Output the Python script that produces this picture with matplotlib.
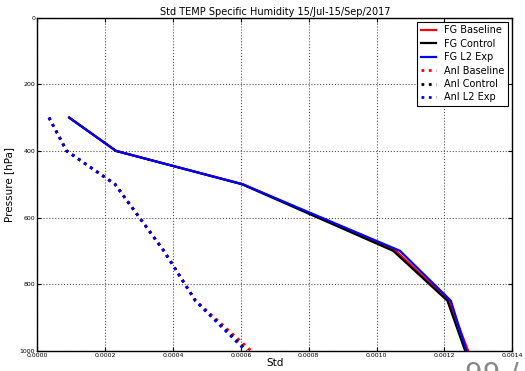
import matplotlib
matplotlib.use("Agg")
import matplotlib.pyplot as plt

# pressure levels [hPa]
levels = [300, 400, 500, 700, 850, 1000]

# first guess std
fg_baseline = [9.4e-5, 2.32e-4, 6.05e-4, 1.057e-3, 1.213e-3, 1.270e-3]
fg_control = [9.4e-5, 2.32e-4, 6.03e-4, 1.049e-3, 1.209e-3, 1.261e-3]
fg_l2exp = [9.4e-5, 2.32e-4, 6.05e-4, 1.069e-3, 1.219e-3, 1.265e-3]

# analysis std
anl_baseline = [3.45e-5, 8.66e-5, 2.29e-4, 3.73e-4, 4.67e-4, 6.30e-4]
anl_control = [3.45e-5, 8.66e-5, 2.29e-4, 3.73e-4, 4.66e-4, 6.18e-4]
anl_l2exp = [3.45e-5, 8.66e-5, 2.29e-4, 3.73e-4, 4.66e-4, 6.14e-4]

fig = plt.figure(figsize=(5.25, 3.71), dpi=100, facecolor="white")
ax = fig.add_axes([0.071, 0.0547, 0.9047, 0.8976])

ax.plot(fg_baseline, levels, "r-", lw=1.6, label="FG Baseline")
ax.plot(fg_control, levels, "k-", lw=1.6, label="FG Control")
ax.plot(fg_l2exp, levels, "b-", lw=1.6, label="FG L2 Exp")
ax.plot(anl_baseline, levels, "r:", lw=2.0, label="Anl Baseline")
ax.plot(anl_control, levels, "k:", lw=2.0, label="Anl Control")
ax.plot(anl_l2exp, levels, "b:", lw=2.0, label="Anl L2 Exp")

ax.set_xlim(0, 0.0014)
ax.set_ylim(1000, 0)
ax.set_xticks([0, 0.0002, 0.0004, 0.0006, 0.0008, 0.0010, 0.0012, 0.0014])
ax.set_xticklabels(["0.0000", "0.0002", "0.0004", "0.0006", "0.0008",
                    "0.0010", "0.0012", "0.0014"])
ax.set_yticks([0, 200, 400, 600, 800, 1000])
ax.tick_params(direction="in", labelsize=4.5, top=True, right=True,
               length=3, pad=1.5)
ax.grid(True, color="#555555", linestyle=":", linewidth=0.8)
for s in ax.spines.values():
    s.set_linewidth(1.0)

ax.set_title("Std TEMP Specific Humidity 15/Jul-15/Sep/2017", fontsize=7, pad=2)
ax.set_xlabel("Std", fontsize=7.5, labelpad=0)
ax.set_ylabel("Pressure [hPa]", fontsize=7.5, labelpad=4)

leg = ax.legend(loc="upper right", fontsize=7, handlelength=1.6,
                labelspacing=0.35, borderpad=0.4, fancybox=False,
                framealpha=1, edgecolor="black", borderaxespad=0.4)
leg.get_frame().set_linewidth(0.8)

# page-number overlay, cut off at the bottom edge
fig.text(0.885, -0.048, "99 / 4", fontsize=20, color="#888888",
         ha="left", va="bottom")

fig.savefig("out.png", dpi=100, facecolor="white")
